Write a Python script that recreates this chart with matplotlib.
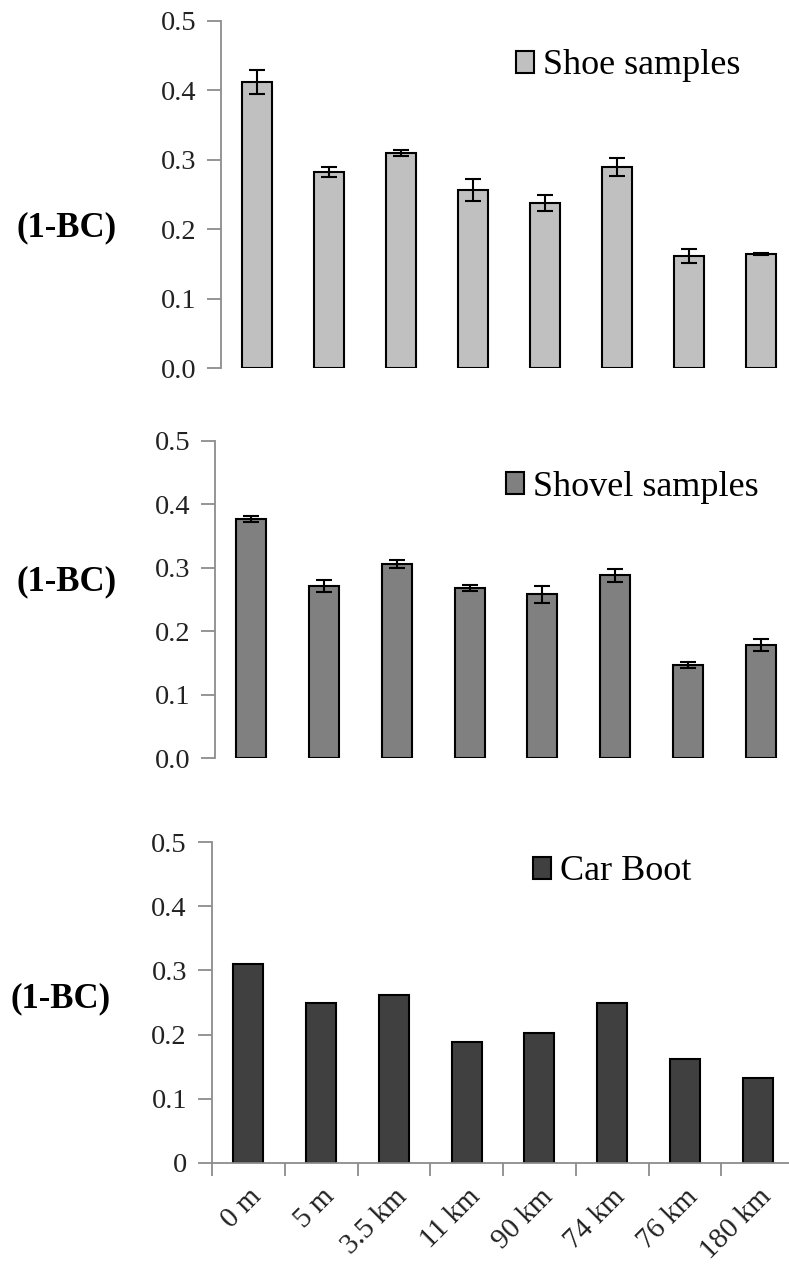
import numpy as np
import matplotlib.pyplot as plt

plt.rcParams['font.family'] = ['Liberation Serif', 'DejaVu Serif']

# distances between sampling sites
sites = ['0 m', '5 m', '3.5 km', '11 km', '90 km', '74 km', '76 km', '180 km']

# similarity (1-BC) per site
shoe = [0.412, 0.282, 0.310, 0.256, 0.238, 0.290, 0.162, 0.164]
shoe_err = [0.017, 0.007, 0.004, 0.016, 0.012, 0.013, 0.010, 0.0015]

shovel = [0.377, 0.271, 0.306, 0.268, 0.258, 0.288, 0.147, 0.178]
shovel_err = [0.004, 0.009, 0.007, 0.005, 0.014, 0.010, 0.005, 0.010]

car_boot = [0.31, 0.249, 0.262, 0.188, 0.203, 0.249, 0.162, 0.132]

W, H = 789, 1270
fig = plt.figure(figsize=(W / 100, H / 100), dpi=100)

axis_grey = '#8c8c8c'
x = np.arange(len(sites))


def panel(rect, vals, err, color, label, leg_xy, ylab_xy, last=False):
    ax = fig.add_axes(rect)
    ax.bar(x, vals, width=0.41, color=color, edgecolor='black', linewidth=1.5,
           yerr=err, capsize=6, error_kw=dict(ecolor='black', elinewidth=1.5, capthick=1.5),
           label=label, zorder=2)
    ax.set_xlim(-0.5, len(sites) - 0.5)
    ax.set_ylim(0, 0.5)
    ax.set_yticks(np.arange(0, 0.51, 0.1))
    if last:
        ax.set_yticklabels(['0', '0.1', '0.2', '0.3', '0.4', '0.5'])
    else:
        ax.set_yticklabels(['0.0', '0.1', '0.2', '0.3', '0.4', '0.5'])
    for s in ['top', 'right']:
        ax.spines[s].set_visible(False)
    ax.spines['left'].set_color(axis_grey)
    ax.spines['left'].set_linewidth(1.3)
    ax.tick_params(axis='y', colors='#222222', labelsize=20.5, length=10,
                   width=1.3, color=axis_grey, pad=8)
    if last:
        ax.spines['bottom'].set_color(axis_grey)
        ax.spines['bottom'].set_linewidth(1.3)
        ax.set_xticks(x)
        ax.set_xticklabels(sites, rotation=45, ha='right', va='top',
                           rotation_mode='anchor', fontsize=21, color='#222222')
        ax.set_xticks(np.arange(len(sites)) - 0.5, minor=True)
        ax.tick_params(axis='x', which='major', length=0, pad=15)
        ax.tick_params(axis='x', which='minor', length=9, width=1.3, color=axis_grey)
    else:
        ax.spines['bottom'].set_visible(False)
        ax.set_xticks([])
    ax.legend(loc='center left', bbox_to_anchor=(leg_xy[0] / W, 1 - leg_xy[1] / H),
              bbox_transform=fig.transFigure, frameon=False, fontsize=26,
              borderpad=0, borderaxespad=0, handlelength=0.5, handleheight=0.56,
              handletextpad=0.25)
    fig.text(ylab_xy[0] / W, 1 - ylab_xy[1] / H, '(1-BC)', fontsize=25,
             fontweight='bold', ha='center', va='center')
    return ax


panel([221 / W, 1 - 368 / H, 576 / W, 347 / H], shoe, shoe_err, '#c0c0c0',
      'Shoe samples', (516, 66), (67, 228))
panel([215 / W, 1 - 758 / H, 582 / W, 317 / H], shovel, shovel_err, '#808080',
      'Shovel samples', (506, 487), (67, 582))
panel([212 / W, 1 - 1163 / H, 582 / W, 321 / H], car_boot, None, '#404040',
      'Car Boot', (533, 872), (61, 999), last=True)

fig.savefig('out.png', dpi=100)
